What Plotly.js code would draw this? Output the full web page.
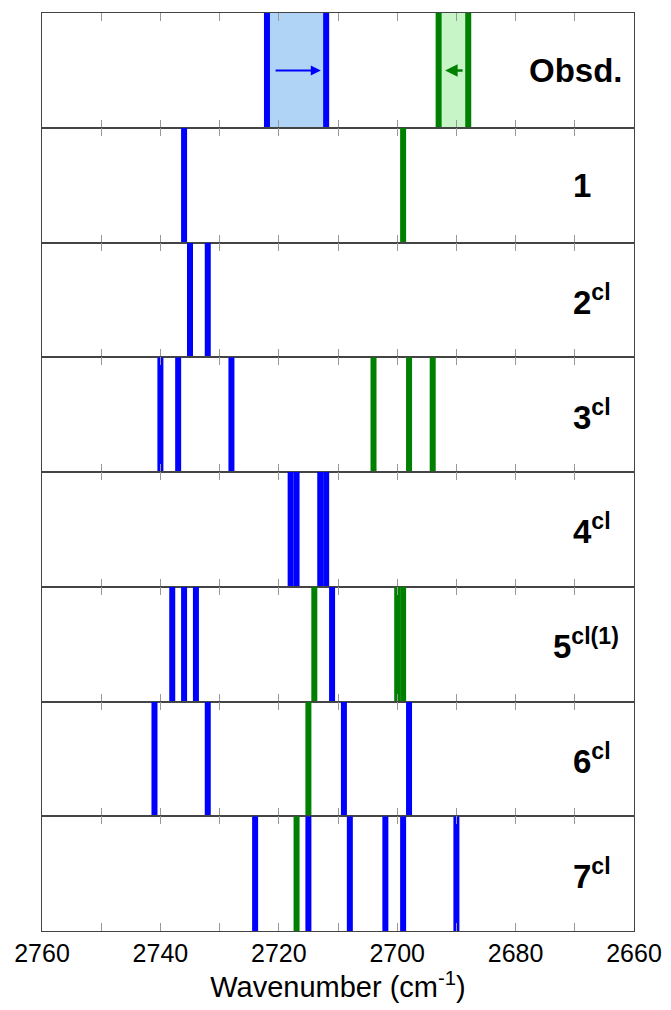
<!DOCTYPE html>
<html>
<head>
<meta charset="utf-8">
<script src="https://cdn.plot.ly/plotly-3.0.1.min.js"></script>
<style>html,body{margin:0;padding:0;background:#fff;}#chart{width:671px;height:1010px;}</style>
</head>
<body>
<div id="chart"></div>
<script>
// Panel labels (top to bottom)
const panelLabels = ['Obsd.', '1', '2<sup>cl</sup>', '3<sup>cl</sup>', '4<sup>cl</sup>', '5<sup>cl(1)</sup>', '6<sup>cl</sup>', '7<sup>cl</sup>'];
// Blue lines, cm^-1
const blueObsd = [2722, 2712];
const blue1 = [2736];
const blue2 = [2735, 2732];
const blue3 = [2740, 2737, 2728];
const blue4 = [2718, 2717, 2713, 2712];
const blue5 = [2738, 2736, 2734, 2711];
const blue6 = [2741, 2732, 2709, 2698];
const blue7 = [2724, 2715, 2708, 2702, 2699, 2690];
// Green lines, cm^-1
const greenObsd = [2693, 2688];
const green1 = [2699];
const green2 = [];
const green3 = [2704, 2698, 2694];
const green4 = [];
const green5 = [2714, 2700, 2699];
const green6 = [2715];
const green7 = [2717];
// Observed shift arrows [from, to]
const arrowBlue = [2720.8, 2712.9];
const arrowGreen = [2688.7, 2691.9];
// Axis ticks
const tickVals = [2760, 2750, 2740, 2730, 2720, 2710, 2700, 2690, 2680, 2670, 2660];
const tickText = ['2760', '', '2740', '', '2720', '', '2700', '', '2680', '', '2660'];

const blueSets = [blueObsd, blue1, blue2, blue3, blue4, blue5, blue6, blue7];
const greenSets = [greenObsd, green1, green2, green3, green4, green5, green6, green7];

const BLUE = '#0000ff', GREEN = '#008000';
const FILL_BLUE = 'rgba(176,212,245,1)', FILL_GREEN = 'rgba(200,245,200,1)';
const N = panelLabels.length;

function sticks(vals) {
  const x = [], y = [];
  vals.forEach(v => { x.push(v, v, null); y.push(0, 1, null); });
  return {x, y};
}
function axName(i, kind) { return kind + (i === 0 ? '' : (i + 1)); }

const traces = [];
[[blueObsd, FILL_BLUE], [greenObsd, FILL_GREEN]].forEach(([vals, fc]) => {
  const a = vals[0], b = vals[1];
  traces.push({
    x: [a, b, b, a, a], y: [0, 0, 1, 1, 0], type: 'scatter', mode: 'lines',
    fill: 'toself', fillcolor: fc, line: {width: 0}, hoverinfo: 'skip',
    xaxis: 'x', yaxis: 'y', showlegend: false
  });
});
for (let i = 0; i < N; i++) {
  const xa = axName(i, 'x'), ya = axName(i, 'y');
  [[blueSets[i], BLUE], [greenSets[i], GREEN]].forEach(([vals, col]) => {
    if (!vals.length) return;
    const s = sticks(vals);
    traces.push({x: s.x, y: s.y, type: 'scatter', mode: 'lines',
      line: {color: col, width: 6}, xaxis: xa, yaxis: ya, showlegend: false, hoverinfo: 'x'});
  });
}

const FONT = '"Liberation Sans", Arial, Helvetica, sans-serif';
const layout = {
  width: 671, height: 1010,
  margin: {l: 42, r: 37, t: 13, b: 79},
  paper_bgcolor: '#fff', plot_bgcolor: '#fff',
  font: {family: FONT, color: '#000'},
  showlegend: false,
  annotations: [],
};
const labelX = [576, 582, 592, 592, 592, 586, 592, 592];
for (let i = 0; i < N; i++) {
  const top = 1 - i / N, bot = 1 - (i + 1) / N;
  const xa = axName(i, 'x'), ya = axName(i, 'y');
  const xk = i === 0 ? 'xaxis' : 'xaxis' + (i + 1);
  const yk = i === 0 ? 'yaxis' : 'yaxis' + (i + 1);
  layout[xk] = {
    range: [2760, 2660], anchor: ya, showgrid: false, zeroline: false,
    showline: true, linecolor: '#444', linewidth: 1, mirror: 'ticks',
    ticks: 'inside', ticklen: 8, tickcolor: '#999', tickwidth: 1,
    tickmode: 'array', tickvals: tickVals, ticktext: tickText,
    showticklabels: i === N - 1,
    tickfont: {size: 25, family: FONT, color: '#000'},
    fixedrange: true
  };
  if (i !== 0) layout[xk].matches = 'x';
  if (i === N - 1) {
    layout[xk].title = {text: 'Wavenumber (cm<sup>-1</sup>)', font: {size: 29, family: FONT, color: '#000'}, standoff: 6};
  }
  layout[yk] = {
    domain: [bot, top], range: [0, 1], anchor: xa, showgrid: false, zeroline: false,
    showline: true, linecolor: '#444', linewidth: 1, mirror: true,
    ticks: '', showticklabels: false, fixedrange: true
  };
  layout.annotations.push({
    xref: 'paper', yref: 'paper', x: (labelX[i] - 42) / 592, y: (top + bot) / 2,
    xanchor: 'center', yanchor: 'middle', showarrow: false,
    text: '<b>' + panelLabels[i] + '</b>', font: {size: 33, family: FONT, color: '#000'}
  });
}
[[arrowBlue, BLUE, 2], [arrowGreen, GREEN, 2.5]].forEach(([ar, col, w]) => {
  layout.annotations.push({
    xref: 'x', yref: 'y', x: ar[1], y: 0.5, ax: ar[0], ay: 0.5, axref: 'x', ayref: 'y',
    showarrow: true, arrowhead: 2, arrowsize: 1, arrowwidth: w, arrowcolor: col, text: ''
  });
});

Plotly.newPlot('chart', traces, layout, {displayModeBar: false, staticPlot: true});
</script>
</body>
</html>
